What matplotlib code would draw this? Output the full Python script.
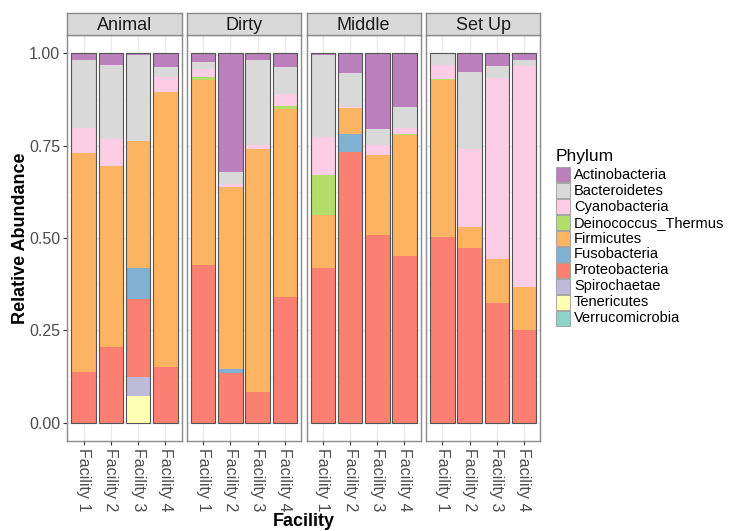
import matplotlib
matplotlib.use("Agg")
import matplotlib.pyplot as plt
import matplotlib.patches as mpatches
import numpy as np

plt.rcParams["font.family"] = ["Liberation Sans", "DejaVu Sans"]

sites = ["Animal", "Dirty", "Middle", "Set Up"]
facilities = ["Facility 1", "Facility 2", "Facility 3", "Facility 4"]

# legend order (top of stack first)
phyla = ["Actinobacteria", "Bacteroidetes", "Cyanobacteria", "Deinococcus_Thermus",
         "Firmicutes", "Fusobacteria", "Proteobacteria", "Spirochaetae",
         "Tenericutes", "Verrucomicrobia"]
colours = ["#BC80BD", "#D9D9D9", "#FCCDE5", "#B3DE69", "#FDB462",
           "#80B1D3", "#FB8072", "#BEBADA", "#FFFFB3", "#8DD3C7"]

# values per bar: Animal F1-4, Dirty F1-4, Middle F1-4, Set Up F1-4
actinobacteria = [0.018, 0.030, 0.005, 0.036, 0.023, 0.322, 0.018, 0.036,
                  0.005, 0.054, 0.206, 0.146, 0.000, 0.049, 0.034, 0.019]
bacteroidetes = [0.185, 0.203, 0.231, 0.027, 0.018, 0.032, 0.229, 0.075,
                 0.220, 0.090, 0.041, 0.057, 0.032, 0.209, 0.033, 0.015]
cyanobacteria = [0.066, 0.072, 0.000, 0.042, 0.023, 0.009, 0.013, 0.031,
                 0.105, 0.004, 0.028, 0.015, 0.038, 0.213, 0.491, 0.599]
deinococcus = [0.000, 0.000, 0.000, 0.000, 0.008, 0.000, 0.000, 0.009,
               0.108, 0.000, 0.000, 0.003, 0.003, 0.000, 0.000, 0.000]
firmicutes = [0.593, 0.490, 0.345, 0.744, 0.500, 0.492, 0.657, 0.508,
              0.143, 0.071, 0.216, 0.327, 0.425, 0.055, 0.119, 0.117]
fusobacteria = [0.000, 0.000, 0.085, 0.000, 0.000, 0.012, 0.000, 0.000,
                0.000, 0.049, 0.000, 0.000, 0.000, 0.000, 0.000, 0.000]
proteobacteria = [0.138, 0.205, 0.210, 0.151, 0.428, 0.133, 0.083, 0.341,
                  0.419, 0.732, 0.509, 0.452, 0.502, 0.474, 0.323, 0.250]
spirochaetae = [0.000, 0.000, 0.052, 0.000, 0.000, 0.000, 0.000, 0.000,
                0.000, 0.000, 0.000, 0.000, 0.000, 0.000, 0.000, 0.000]
tenericutes = [0.000, 0.000, 0.072, 0.000, 0.000, 0.000, 0.000, 0.000,
               0.000, 0.000, 0.000, 0.000, 0.000, 0.000, 0.000, 0.000]
verrucomicrobia = [0.0] * 16

values = [actinobacteria, bacteroidetes, cyanobacteria, deinococcus, firmicutes,
          fusobacteria, proteobacteria, spirochaetae, tenericutes, verrucomicrobia]

W, H = 737, 531
fig = plt.figure(figsize=(W / 100, H / 100), dpi=100)


def box(left, top, width, height):
    return [left / W, 1 - (top + height) / H, width / W, height / H]


border = "#8a8a8a"
panel_lefts = [67.3, 186.9, 306.5, 426.0]
panel_w = 114.3
panel_top, panel_bot = 35.0, 441.0
x = np.arange(1, 5)

for i, site in enumerate(sites):
    ax = fig.add_axes(box(panel_lefts[i], panel_top, panel_w, panel_bot - panel_top))
    sl = slice(4 * i, 4 * i + 4)
    bottom = np.zeros(4)
    # stack bottom-up: reverse legend order
    for vals, col in zip(values[::-1], colours[::-1]):
        v = np.array(vals[sl])
        ax.bar(x, v, bottom=bottom, width=0.9, color=col, linewidth=0, zorder=2)
        bottom += v
    ax.bar(x, bottom, width=0.9, fill=False, edgecolor="#555555", linewidth=0.8, zorder=3)

    ax.set_xlim(0.4, 4.6)
    ax.set_ylim(-0.05, 1.05)
    ax.set_yticks([0, 0.25, 0.5, 0.75, 1.0])
    ax.set_yticks([0.125, 0.375, 0.625, 0.875], minor=True)
    ax.set_xticks(x)
    ax.set_xticklabels(facilities, rotation=270, fontsize=11.5, color="#4d4d4d")
    ax.grid(True, which="major", color="#ebebeb", linewidth=0.9, zorder=0)
    ax.grid(True, which="minor", axis="y", color="#f2f2f2", linewidth=0.5, zorder=0)
    ax.set_axisbelow(True)
    ax.tick_params(axis="both", which="major", length=3, width=0.8, color="#333333",
                   pad=2)
    ax.tick_params(axis="both", which="minor", length=0)
    if i == 0:
        ax.set_yticklabels(["0.00", "0.25", "0.50", "0.75", "1.00"], fontsize=11.5,
                           color="#4d4d4d")
    else:
        ax.tick_params(axis="y", which="both", left=False, labelleft=False)
    for s in ax.spines.values():
        s.set_color(border)
        s.set_linewidth(1.0)

    st = fig.add_axes(box(panel_lefts[i], 13.3, panel_w, panel_top - 13.3))
    st.set_facecolor("#d9d9d9")
    st.set_xticks([])
    st.set_yticks([])
    for s in st.spines.values():
        s.set_color(border)
        s.set_linewidth(1.0)
    st.text(0.5, 0.45, site, ha="center", va="center", fontsize=13, color="#1a1a1a",
            transform=st.transAxes)

fig.text(303.8 / W, 1 - 521 / H, "Facility", ha="center", va="center",
         fontsize=13, fontweight="bold")
fig.text(21 / W, 1 - 238 / H, "Relative Abundance", ha="center", va="center",
         rotation=90, fontsize=13, fontweight="bold")

# legend
fig.text(556 / W, 1 - 157 / H, "Phylum", ha="left", va="center", fontsize=12.5)
for k, (name, col) in enumerate(zip(phyla, colours)):
    yc = 175 + 15.9 * k
    fig.patches.append(mpatches.Rectangle(
        (556 / W, 1 - (yc + 7.5) / H), 14 / W, 15 / H, transform=fig.transFigure,
        facecolor=col, edgecolor="#9a9a9a", linewidth=0.6))
    fig.text(574 / W, 1 - yc / H, name, ha="left", va="center", fontsize=10.5)

fig.savefig("out.png", dpi=100)
